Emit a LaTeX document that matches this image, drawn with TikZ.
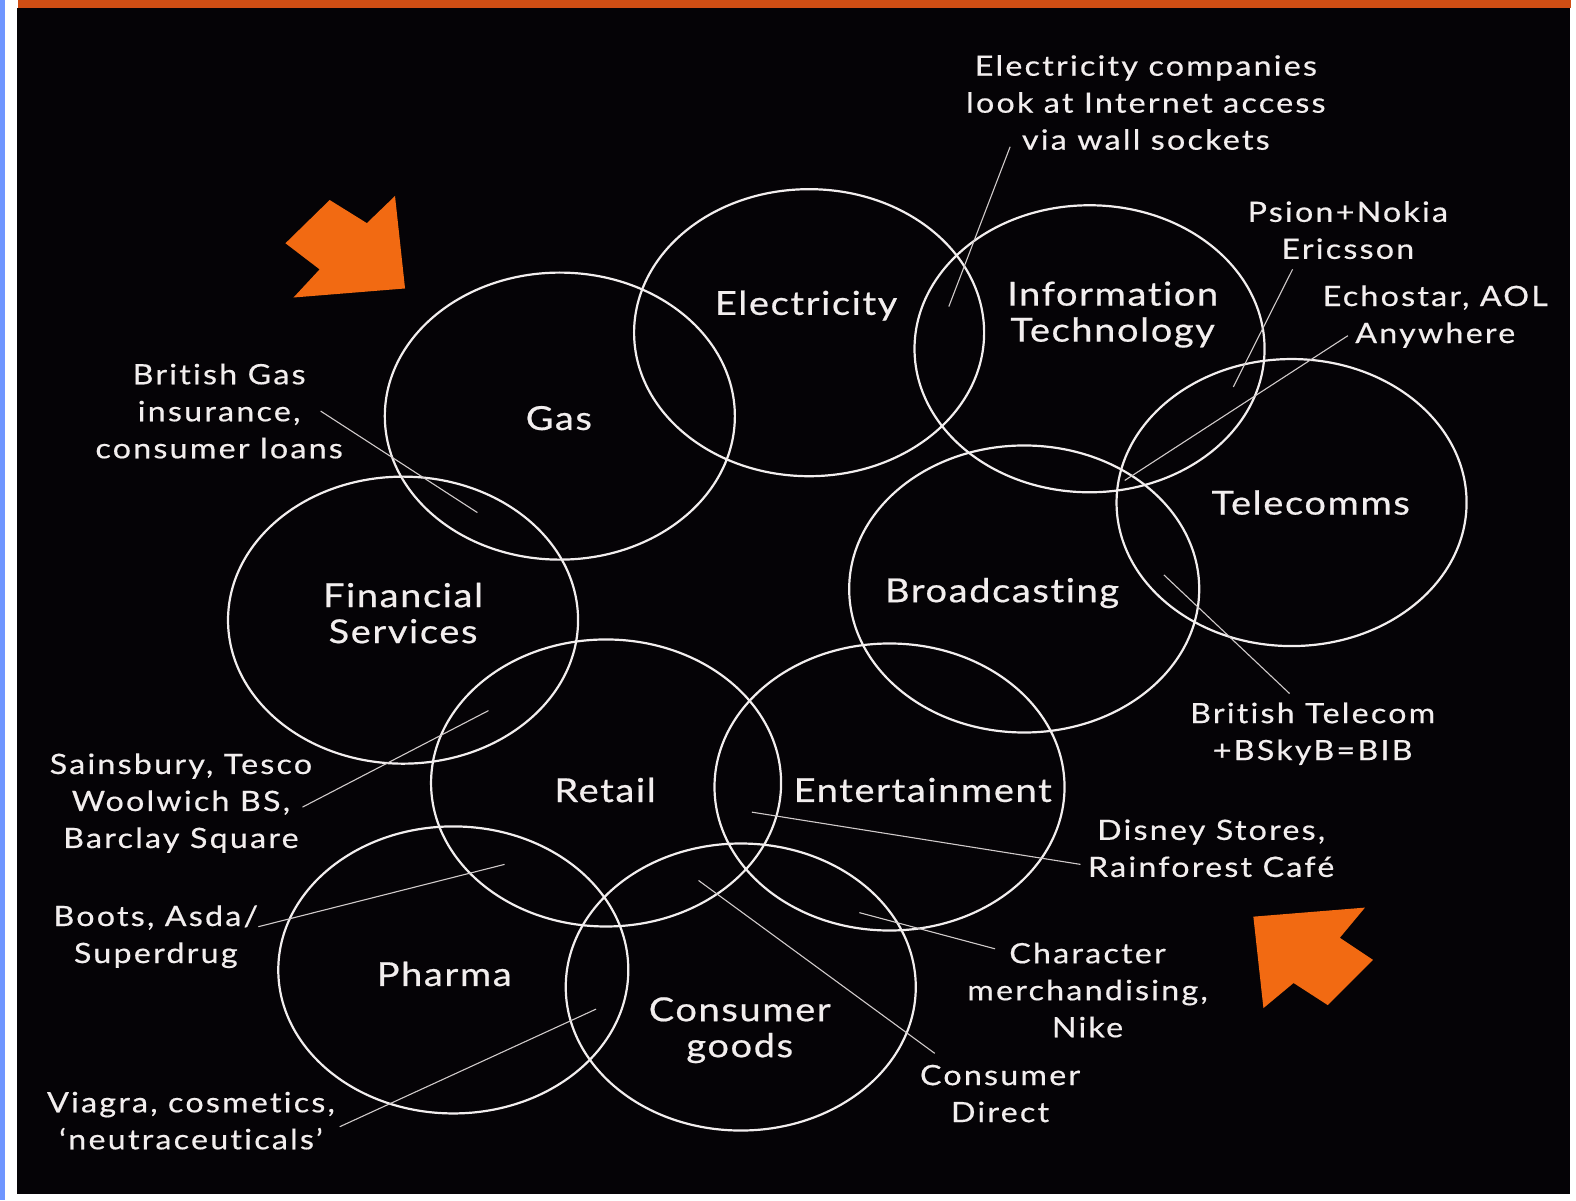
\documentclass[tikz,border=0pt]{standalone}
\usepackage{fontspec}
\setmainfont{Lato}
\newfontfamily\remarkface{Lato}[LetterSpace=8, FakeStretch=1.15, FakeBold=0.5, Ligatures=NoCommon]
\newfontfamily\sectorface{Lato}[LetterSpace=5, FakeStretch=1.15, FakeBold=0.6, Ligatures=NoCommon]
\usetikzlibrary{shapes.geometric}
\definecolor{ink}{HTML}{050306}
\definecolor{barorange}{HTML}{D04E14}
\definecolor{arroworange}{HTML}{F26A12}
\definecolor{edgeblue}{HTML}{6F95FF}
\definecolor{chalk}{HTML}{F2EEEE}
\definecolor{thread}{HTML}{D0CACA}
\tikzset{
  sector/.style={ellipse, draw=chalk, line width=2.2pt, minimum width=350pt,
    minimum height=287pt, inner sep=0pt},
  sectorname/.style={text=chalk, align=center, inner sep=0pt,
    font=\sectorface\fontsize{33}{36}\selectfont},
  remark/.style={text=chalk, align=center, inner sep=0pt,
    font=\remarkface\fontsize{28}{37}\selectfont},
  leader/.style={draw=thread, line width=1.1pt},
  pointer/.style={fill=arroworange, draw=none}
}
\begin{document}
\begin{tikzpicture}[x=1.005pt, y=-1.005pt]
  \useasboundingbox (0,0) rectangle (1568,1194);
  % page, edges and header bar
  \fill[white] (0,0) rectangle (1568,1194);
  \fill[edgeblue] (0,0) rectangle (5,1194);
  \fill[ink] (17,8) rectangle (1562,1188);
  \fill[barorange] (18,0) rectangle (1563,8);

  % sector ellipses
  \node[sector] (gas)    at (557,414) {};
  \node[sector] (elec)   at (805,331) {};
  \node[sector] (it)     at (1084,347) {};
  \node[sector] (tel)    at (1285,500) {};
  \node[sector] (broad)  at (1019,586) {};
  \node[sector] (fin)    at (401,617) {};
  \node[sector] (retail) at (603,779) {};
  \node[sector] (ent)    at (885,783) {};
  \node[sector] (pharma) at (451,965) {};
  \node[sector] (cons)   at (737,982) {};

  % sector names
  \node[sectorname] (gasT)    at (556,416) {Gas};
  \node[sectorname] (elecT)   at (802,304) {Electricity};
  \node[sectorname] (itT)     at (1107,313) {Information\\Technology};
  \node[sectorname] (telT)    at (1304,500) {Telecomms};
  \node[sectorname] (broadT)  at (997,590) {Broadcasting};
  \node[sectorname] (finT)    at (401,610) {Financial\\Services};
  \node[sectorname] (retailT) at (602,786) {Retail};
  \node[sectorname] (entT)    at (918,786) {Entertainment};
  \node[sectorname] (pharmaT) at (442,969) {Pharma};
  \node[sectorname] (consT)   at (736,1025) {Consumer\\goods};

  % remarks
  \node[remark] (rElec)   at (1140,102) {Electricity companies\\look at Internet access\\via wall sockets};
  \node[remark] (rPsion)  at (1341,229) {Psion+Nokia\\Ericsson};
  \node[remark] (rEcho)   at (1428,315) {Echostar, AOL\\Anywhere};
  \node[remark] (rGas)    at (218,409) {British Gas\\insurance,\\consumer loans};
  \node[remark] (rSains)  at (180,799) {Sainsbury, Tesco\\Woolwich BS,\\Barclay Square};
  \node[remark] (rBoots)  at (155,932) {Boots, Asda/\\Superdrug};
  \node[remark] (rViagra) at (190,1115) {Viagra, cosmetics,\\‘neutraceuticals’};
  \node[remark] (rBT)     at (1306,730) {British Telecom\\+BSkyB=BIB};
  \node[remark] (rDisney) at (1205,844) {Disney Stores,\\Rainforest Café};
  \node[remark] (rChar)   at (1082,985) {Character\\merchandising,\\Nike};
  \node[remark] (rDirect) at (995,1088) {Consumer\\Direct};

  % leader lines
  \coordinate (aElec)   at (1005,146);  \coordinate (bElec)   at (944,305);
  \coordinate (aPsion)  at (1286,268);  \coordinate (bPsion)  at (1227,385);
  \coordinate (aEcho)   at (1341,334);  \coordinate (bEcho)   at (1119,478);
  \coordinate (aGas)    at (319,409);   \coordinate (bGas)    at (475,510);
  \coordinate (aSains)  at (301,803);   \coordinate (bSains)  at (486,707);
  \coordinate (aBoots)  at (257,922);   \coordinate (bBoots)  at (502,860);
  \coordinate (aViagra) at (338,1121);  \coordinate (bViagra) at (593,1004);
  \coordinate (aBT)     at (1283,690);  \coordinate (bBT)     at (1158,572);
  \coordinate (aDisney) at (1075,860);  \coordinate (bDisney) at (748,808);
  \coordinate (aChar)   at (990,944);   \coordinate (bChar)   at (855,908);
  \coordinate (aDirect) at (930,1048);  \coordinate (bDirect) at (695,876);
  \foreach \s in {Elec,Psion,Echo,Gas,Sains,Boots,Viagra,BT,Disney,Char,Direct}
    \draw[leader] (a\s) -- (b\s);

  % orange pointers
  \fill[pointer] (403,287) -- (393,195) -- (365,222) -- (328,199) -- (284,242)
    -- (318,268) -- (292,296) -- cycle;
  \fill[pointer] (1247,912) -- (1358,903) -- (1333,933) -- (1366,955)
    -- (1321,1000) -- (1287,978) -- (1257,1003) -- cycle;
\end{tikzpicture}
\end{document}
